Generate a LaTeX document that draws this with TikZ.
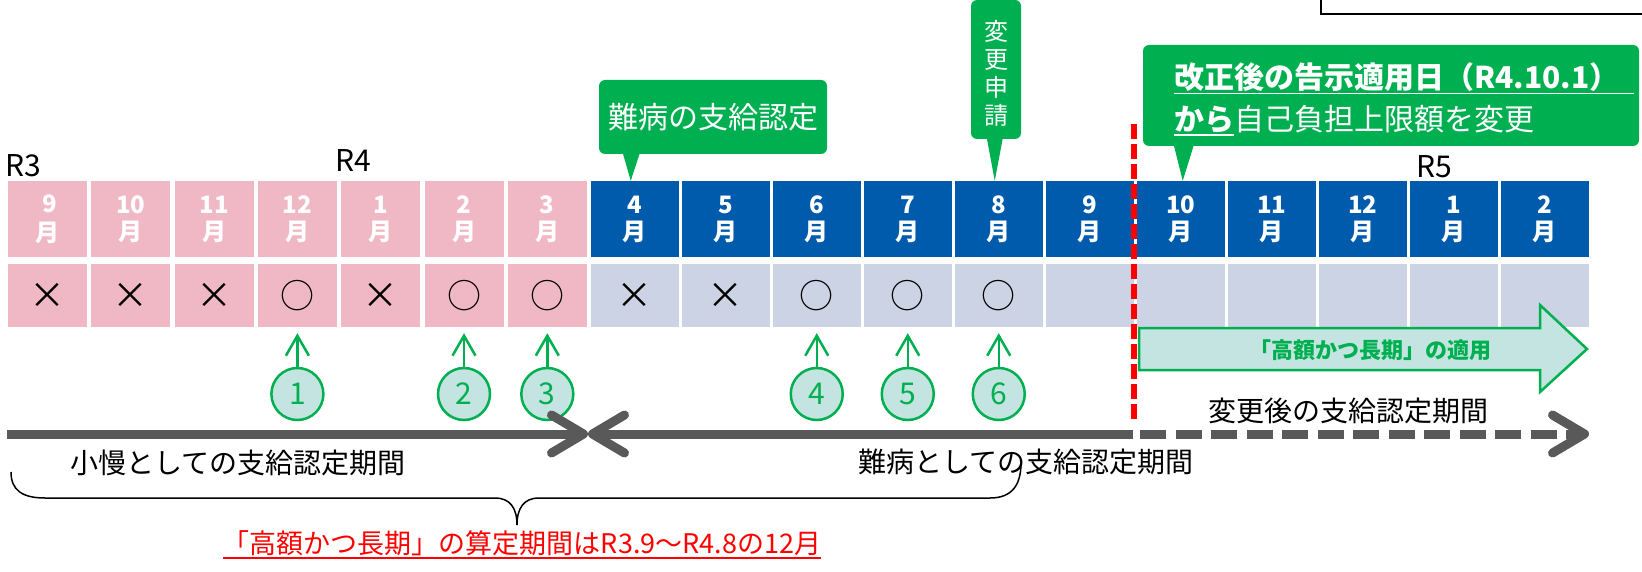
\documentclass[tikz,border=0pt]{standalone}
\usepackage{fontspec}
\setmainfont{Noto Sans CJK JP}
\usetikzlibrary{arrows.meta}
\definecolor{pinkc}{HTML}{F0B8C4}
\definecolor{bluec}{HTML}{005BAC}
\definecolor{grayc}{HTML}{CCD3E4}
\definecolor{greenc}{HTML}{00B050}
\definecolor{tealc}{HTML}{C3E4E0}
\definecolor{linec}{HTML}{595959}
\newcommand{\setfs}[1]{\fontsize{#1}{#1}\selectfont}
\newcommand{\batsu}{{\setfs{36}×}}
\newcommand{\maru}{{\setfs{34}○}}

\begin{document}
\begin{tikzpicture}[x=1pt,y=-1pt,
  monthcell/.style={minimum height=76pt,inner sep=0pt,text=white,align=center,
    font=\bfseries\fontsize{24}{27}\selectfont},
  markcell/.style={minimum height=63pt,inner sep=0pt},
  greenbox/.style={fill=greenc,rounded corners=6pt,inner sep=0pt},
  numc/.style={circle,draw=greenc,fill=tealc,line width=2.5pt,minimum size=52pt,
    inner sep=0pt,text=greenc,font=\setfs{30}},
  upar/.style={greenc,line width=2.5pt,-{Straight Barb[length=20pt,width=23pt]},shorten >=6pt},
  period/.style={linec,line width=9pt},
  chev/.tip={Straight Barb[length=32pt,width=38pt,round]}]
\useasboundingbox (0,0) rectangle (1642,572);

\draw[line width=1.5pt] (1321,-5) rectangle (1660,14);

% R3.9 -- R5.3
\foreach \m/\k [count=\i] in {{\hspace{4pt}9\\[2pt]月\hspace{15pt}}/\batsu,{10\\月}/\batsu,{11\\月}/\batsu,
    {12\\月}/\maru,{1\\月}/\batsu,{2\\月}/\maru,{3\\月}/\maru}{
  \node[monthcell,fill=pinkc,minimum width=79pt] (pm\i) at ({47.5+83.3*(\i-1)},219) {\m};
  \node[markcell,fill=pinkc,minimum width=79pt] (pk\i) at ({47.5+83.3*(\i-1)},295.5) {\k};
}
\foreach \m/\k [count=\i] in {4/\batsu,5/\batsu,6/\maru,7/\maru,8/\maru,9/,10/,11/,12/,1/,2/}{
  \node[monthcell,fill=bluec,minimum width=87.5pt] (bm\i) at ({634.75+91*(\i-1)},219) {\m\\月};
  \node[markcell,fill=grayc,minimum width=87.5pt] (bk\i) at ({634.75+91*(\i-1)},295.5) {\k};
}

\node[anchor=base west,inner sep=0pt,font=\setfs{30}] (r3) at (5,177) {R3};
\node[anchor=base west,inner sep=0pt,font=\setfs{30}] (r4) at (335,172) {R4};
\node[anchor=base west,inner sep=0pt,font=\setfs{30}] (r5) at (1416,178) {R5};

% callouts
\node[greenbox,minimum width=228pt,minimum height=74pt,text=white,font=\setfs{30}] (cb1) at (713,117) {難病の支給認定};
\fill[greenc] ([xshift=24pt,yshift=1pt]cb1.south west) -- ([xshift=41pt,yshift=1pt]cb1.south west) -- ([xshift=-4pt]bm1.north) -- cycle;

\node[greenbox,minimum width=50pt,minimum height=139pt] (cb2) at (996,69.5) {};
\node[text=white,align=center,font=\fontsize{24}{28}\selectfont] (cl2) at ([yshift=-4pt]cb2.center) {変\\更\\申\\請};
\fill[greenc] ([xshift=16pt,yshift=1pt]cb2.south west) -- ([xshift=32pt,yshift=1pt]cb2.south west) -- ([xshift=-4pt]bm5.north) -- cycle;

\node[greenbox,minimum width=496pt,minimum height=101pt] (cb3) at (1391,95.5) {};
\fill[greenc] ([xshift=31pt,yshift=1pt]cb3.south west) -- ([xshift=51pt,yshift=1pt]cb3.south west) -- ([xshift=2pt]bm7.north) -- cycle;
\node[anchor=west,inner sep=0pt,text=white,font=\bfseries\setfs{30}] (cl3a) at (1174,77.5) {改正後の告示適用日（R4.10.1）};
\node[anchor=west,inner sep=0pt,text=white,font=\bfseries\setfs{30}] (cl3b) at (1174,119.5) {から};
\node[anchor=west,inner sep=0pt,text=white,font=\setfs{30}] (cl3c) at (cl3b.east) {自己負担上限額を変更};
\draw[white,line width=1.5pt] ([yshift=-1.5pt]cl3a.south west) -- ([xshift=14pt,yshift=-1.5pt]cl3a.south east);
\draw[white,line width=1.5pt] ([yshift=-1.5pt]cl3b.south west) -- ([yshift=-1.5pt]cl3b.south east);

% change date
\draw[red,line width=5.5pt,dash pattern=on 15pt off 5pt] (1134,124) -- (1134,419);
\draw[greenc,line width=2.5pt,fill=tealc] (1139,328) -- (1540,328) -- (1540,305) -- (1587,349)
  -- (1540,392) -- (1540,370) -- (1139,370) -- cycle;
\node[text=greenc,font=\bfseries\setfs{22}] (ap) at (1370,350) {「高額かつ長期」の適用};

\foreach \c/\n in {pk4/1,pk6/2,pk7/3,bk3/4,bk4/5,bk5/6}{
  \node[numc] (c\n) at (\c |- 0,394) {\n};
  \draw[upar] (c\n) -- (\c);
}

% periods
\coordinate (t0) at (7,434);
\coordinate (tm) at (588,434);
\coordinate (tc) at (1133,434);
\coordinate (td) at (1140,434);
\coordinate (te) at (1589,434);
\draw[period,-chev] (t0) -- (tm);
\draw[period,chev-] (tm) -- (tc);
\draw[period,dash pattern=on 26pt off 9.5pt,-chev] (td) -- (te);

\node[font=\setfs{28}] (p1) at (238,463) {小慢としての支給認定期間};
\node[font=\setfs{28}] (p2) at (1026,462) {難病としての支給認定期間};
\node[font=\setfs{28}] (p3) at (1348,411) {変更後の支給認定期間};

\draw[line width=1.5pt] (11,472) .. controls (11,490) and (22,498) .. (45,498) -- (495,498)
  .. controls (510,498) and (517,508) .. (517,525) .. controls (517,508) and (524,498) .. (539,498)
  -- (990,498) .. controls (1012,498) and (1021,485) .. (1021,463);
\node[text=red,inner sep=0pt,font=\setfs{27}] (calc) at (522,543) {「高額かつ長期」の算定期間はR3.9～R4.8の12月};
\draw[red,line width=1.5pt] ([yshift=-2pt]calc.south west) -- ([yshift=-2pt]calc.south east);
\end{tikzpicture}
\end{document}
